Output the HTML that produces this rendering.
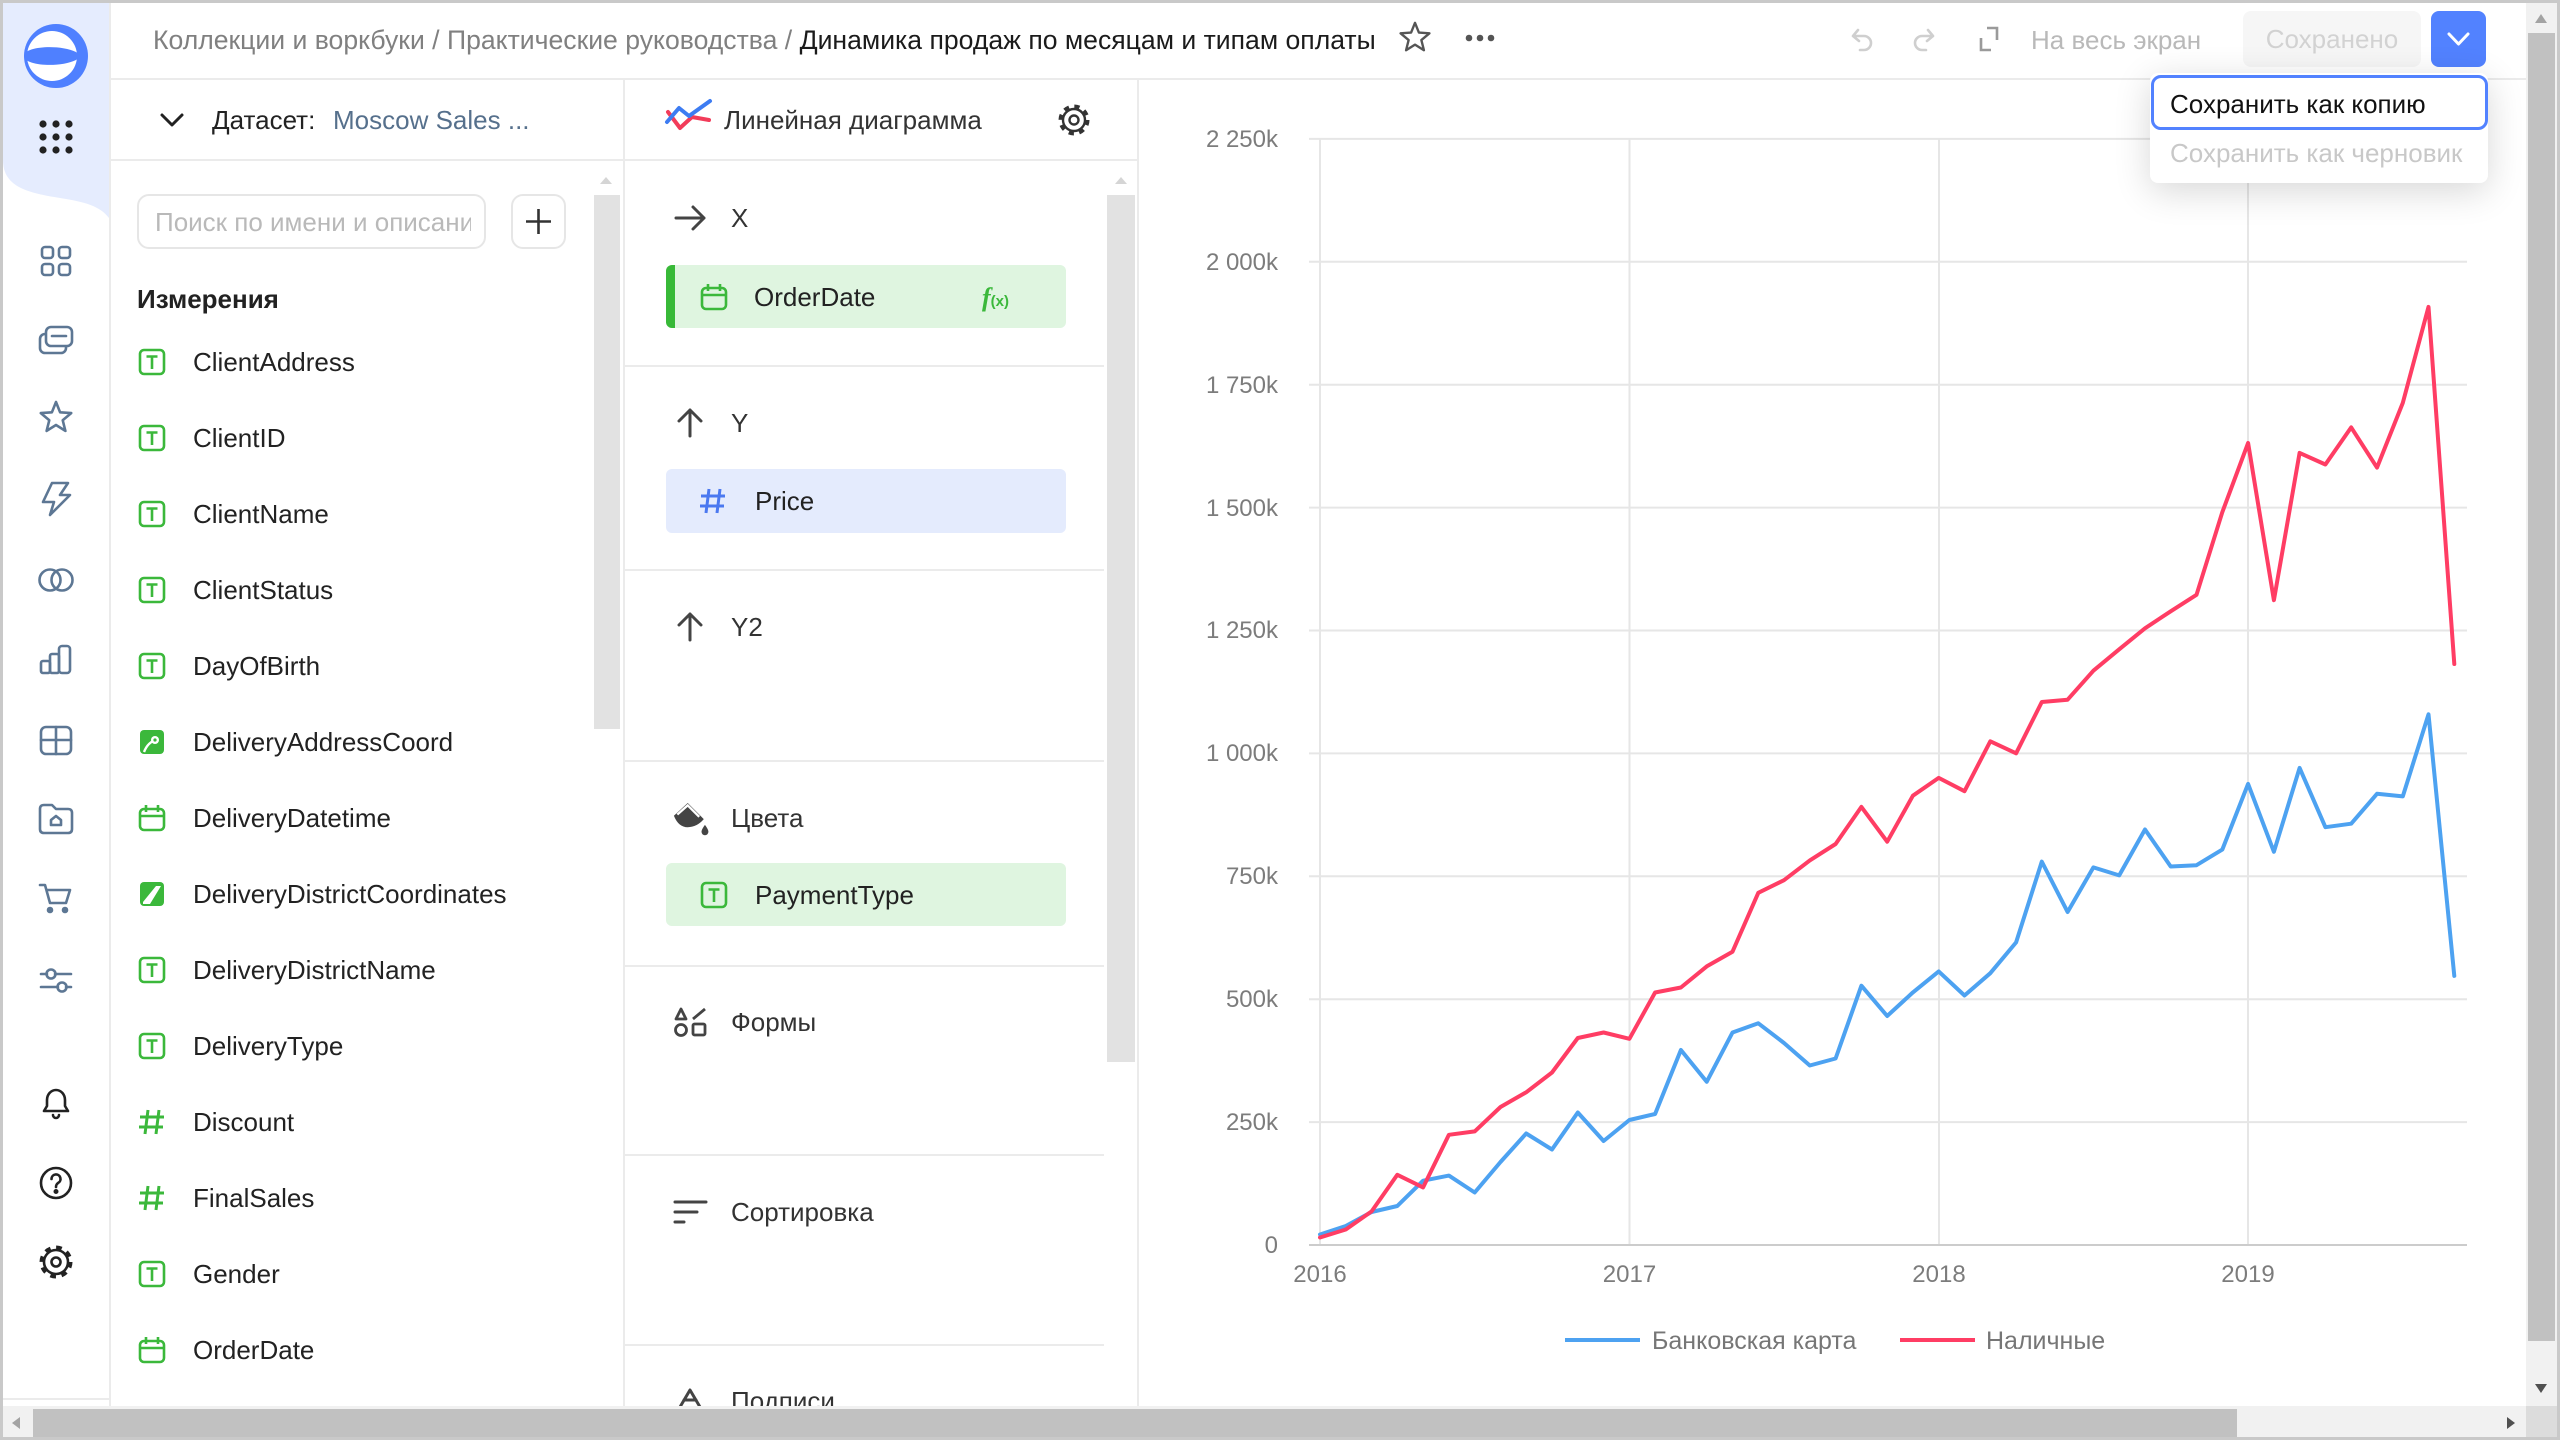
<!DOCTYPE html>
<html><head><meta charset="utf-8">
<style>
*{margin:0;padding:0;box-sizing:border-box}
body{width:2560px;height:1440px;overflow:hidden;background:#fff;font-family:"Liberation Sans","Noto Sans CJK SC",sans-serif;}
#r{position:relative;width:2560px;height:1440px;overflow:hidden;background:#fff}
.a{position:absolute}
.t{position:absolute;white-space:nowrap;font-size:26px;line-height:32px;color:#222}
.hl{position:absolute;height:2px;background:#ebebeb}
.vl{position:absolute;width:2px;background:#ebebeb}
</style></head><body><div id="r">

<!-- structural borders -->
<div class="hl" style="left:110px;top:78px;width:2416px"></div>
<div class="vl" style="left:109px;top:3px;height:1403px"></div>
<div class="hl" style="left:111px;top:159px;width:1028px"></div>
<div class="vl" style="left:623px;top:79px;height:1327px"></div>
<div class="vl" style="left:1137px;top:79px;height:1327px"></div>
<div class="hl" style="left:3px;top:1398px;width:107px"></div>

<!-- search & plus -->
<div class="a" style="left:137px;top:194px;width:349px;height:55px;border:2px solid #e6e6e6;border-radius:12px;overflow:hidden">
  <div class="t" style="left:16px;top:10px;color:#b9b9b9;width:316px;overflow:hidden">Поиск по имени и описанию</div>
</div>
<div class="a" style="left:511px;top:194px;width:55px;height:55px;border:2px solid #e6e6e6;border-radius:12px"></div>

<!-- inner scroll thumbs -->
<div class="a" style="left:594px;top:195px;width:26px;height:534px;background:#e2e2e2"></div>
<div class="a" style="left:1107px;top:195px;width:28px;height:867px;background:#e2e2e2"></div>

<!-- pills -->
<div class="a" style="left:666px;top:265px;width:400px;height:63px;background:#dff5e0;border-radius:6px"></div>
<div class="a" style="left:666px;top:265px;width:9px;height:63px;background:#38b938;border-radius:6px 0 0 6px"></div>
<div class="a" style="left:666px;top:469px;width:400px;height:64px;background:#e4ebfd;border-radius:6px"></div>
<div class="a" style="left:666px;top:863px;width:400px;height:63px;background:#dff5e0;border-radius:6px"></div>

<!-- section dividers -->
<div class="hl" style="left:625px;top:365px;width:479px"></div>
<div class="hl" style="left:625px;top:569px;width:479px"></div>
<div class="hl" style="left:625px;top:760px;width:479px"></div>
<div class="hl" style="left:625px;top:965px;width:479px"></div>
<div class="hl" style="left:625px;top:1154px;width:479px"></div>
<div class="hl" style="left:625px;top:1344px;width:479px"></div>

<!-- top buttons -->
<div class="a" style="left:2243px;top:11px;width:178px;height:56px;background:#f6f6f6;border-radius:8px"></div>
<div class="t" style="left:2243px;top:23px;width:178px;text-align:center;color:#d2d2d2">Сохранено</div>
<div class="a" style="left:2431px;top:11px;width:55px;height:56px;background:#5282ff;border-radius:8px"></div>

<svg class="a" style="left:0;top:0" width="2560" height="1440" viewBox="0 0 2560 1440" xmlns="http://www.w3.org/2000/svg">
  <!-- nav blue area -->
  <path d="M3 3 H109 V218 C100 206 85 202 60 198 C30 193 3 188 3 160 Z" fill="#e5ecfe"/>
  <!-- logo -->
  <circle cx="56" cy="56" r="32" fill="#4f80ff"/>
  <circle cx="52" cy="56" r="25" fill="#ffffff"/>
  <path d="M24 56 C24 46 60 44 76 52 C80 55 80 57 76 60 C60 68 24 66 24 56 Z" fill="#4f80ff"/>
  <!-- dots grid -->
  <g fill="#222">
    <circle cx="43" cy="124" r="3.6"/><circle cx="56" cy="124" r="3.6"/><circle cx="69" cy="124" r="3.6"/>
    <circle cx="43" cy="137" r="3.6"/><circle cx="56" cy="137" r="3.6"/><circle cx="69" cy="137" r="3.6"/>
    <circle cx="43" cy="150" r="3.6"/><circle cx="56" cy="150" r="3.6"/><circle cx="69" cy="150" r="3.6"/>
  </g>
  <!-- nav icons -->
  <g fill="none" stroke="#5d7794" stroke-width="2.6" stroke-linejoin="round" stroke-linecap="round">
    <g transform="translate(56,261)">
      <rect x="-14" y="-14" width="11" height="11" rx="3"/><rect x="3" y="-14" width="11" height="11" rx="3"/>
      <rect x="-14" y="3" width="11" height="11" rx="3"/><rect x="3" y="3" width="11" height="11" rx="3"/>
    </g>
    <g transform="translate(56,340)">
      <rect x="-16" y="-6" width="26" height="19" rx="5"/>
      <rect x="-10" y="-13" width="26" height="19" rx="5" fill="#fff"/>
      <path d="M-4 -4 H10"/>
    </g>
    <g transform="translate(56,418)">
      <path d="M0 -16 L4.1 -5.7 L15.2 -4.9 L6.7 2.2 L9.4 12.9 L0 7 L-9.4 12.9 L-6.7 2.2 L-15.2 -4.9 L-4.1 -5.7 Z"/>
    </g>
    <g transform="translate(56,499)">
      <path d="M-4 -16 H12 L4 -4 H14 L-6 16 L-2 3 H-13 Z"/>
    </g>
    <g transform="translate(56,580)">
      <circle cx="-6" cy="0" r="10.5"/><circle cx="6" cy="0" r="10.5"/>
    </g>
    <g transform="translate(56,659)">
      <rect x="-15" y="2" width="9" height="12" rx="2"/><rect x="-6" y="-5" width="9" height="19" rx="2"/><rect x="3" y="-13" width="11" height="27" rx="3"/>
    </g>
    <g transform="translate(56,740)">
      <rect x="-15" y="-13" width="30" height="27" rx="5"/><path d="M0 -13 V14 M-15 0 H15"/>
    </g>
    <g transform="translate(56,819)">
      <path d="M-16 -10 Q-16 -14 -12 -14 H-4 L0 -10 H12 Q16 -10 16 -6 V10 Q16 14 12 14 H-12 Q-16 14 -16 10 Z"/>
      <path d="M-5 6 V1 L0 -3 L5 1 V6 Z"/>
    </g>
    <g transform="translate(56,898)">
      <path d="M-16 -13 H-11 L-6 5 H10 L14 -8 H-9"/>
      <circle cx="-6" cy="12" r="2" fill="#5d7794"/><circle cx="9" cy="12" r="2" fill="#5d7794"/>
    </g>
    <g transform="translate(56,980)">
      <path d="M-15 -6 H-9 M-1 -6 H15 M-15 7 H2 M10 7 H15"/>
      <circle cx="-5" cy="-6" r="4.5"/><circle cx="6" cy="7" r="4.5"/>
    </g>
  </g>
  <g fill="none" stroke="#222" stroke-width="2.6" stroke-linejoin="round" stroke-linecap="round">
    <g transform="translate(56,1103)">
      <path d="M-12 8 H12 L9 3 V-3 A9 10 0 0 0 -9 -3 V3 Z"/><path d="M-3 12 A3 3 0 0 0 3 12"/>
    </g>
    <g transform="translate(56,1183)">
      <circle r="15"/><path d="M-4.5 -4 A4.5 4.5 0 1 1 2 0 Q0 1.5 0 4"/><circle cx="0" cy="8.5" r="1.2" fill="#222"/>
    </g>
    <g transform="translate(56,1262)">
      <circle r="12"/><circle r="4.5"/><circle r="14" stroke-width="5" stroke-dasharray="5.5 5.5" stroke-linecap="butt"/>
    </g>
  </g>

  <!-- header star / dots / undo / redo / fullscreen -->
  <path transform="translate(1415,38) scale(0.95)" d="M0 -16 L4.1 -5.7 L15.2 -4.9 L6.7 2.2 L9.4 12.9 L0 7 L-9.4 12.9 L-6.7 2.2 L-15.2 -4.9 L-4.1 -5.7 Z" fill="none" stroke="#555" stroke-width="2.5" stroke-linejoin="round"/>
  <g fill="#555"><circle cx="1469" cy="38" r="3.3"/><circle cx="1480" cy="38" r="3.3"/><circle cx="1491" cy="38" r="3.3"/></g>
  <g fill="none" stroke="#cfcfcf" stroke-width="2.6" stroke-linecap="round" stroke-linejoin="round">
    <path d="M1858 30 L1853 36 L1859 41 M1853 36 H1864 A7 7 0 0 1 1864 50 H1860"/>
    <path d="M1928 30 L1933 36 L1927 41 M1933 36 H1922 A7 7 0 0 0 1922 50 H1926"/>
  </g>
  <g fill="none" stroke="#9a9a9a" stroke-width="2.6">
    <path d="M1981 38 V50 H1991 M1987 28 H1997 V40"/>
  </g>
  <path d="M2449 34 L2458.5 44 L2468 34" fill="none" stroke="#fff" stroke-width="3" stroke-linecap="round" stroke-linejoin="round"/>

  <!-- dataset header chevron -->
  <path d="M162 115 L172 125 L182 115" fill="none" stroke="#222" stroke-width="3" stroke-linecap="round" stroke-linejoin="round"/>
  <!-- chart type icon -->
  <path d="M668 112 L680 128 L692 117 L709 120" fill="none" stroke="#f23c5a" stroke-width="4" stroke-linecap="round" stroke-linejoin="round"/>
  <path d="M667 122 L679 108 L689 116 L710 101" fill="none" stroke="#3d7cf2" stroke-width="4" stroke-linecap="round" stroke-linejoin="round"/>
  <!-- gear header -->
  <g transform="translate(1074,120)" fill="none" stroke="#333" stroke-width="2.4">
    <circle r="11"/><circle r="4.5"/><circle r="13" stroke-width="5" stroke-dasharray="5 5.2"/>
  </g>
  <!-- plus -->
  <path d="M538.5 209 V234 M526 221.5 H551" stroke="#333" stroke-width="2.6"/>
  <!-- inner scroll arrows -->
  <path d="M600 184 L606 177 L612 184 Z" fill="#d5d5d5"/>
  <path d="M1115 184 L1121 177 L1127 184 Z" fill="#d5d5d5"/>

  <!-- field icons -->
  <defs>
    <g id="iT"><rect x="-12" y="-12" width="24" height="24" rx="4" fill="none" stroke="#3bb83b" stroke-width="2.6"/><path d="M-5.5 -5.5 H5.5 M0 -5.5 V7" stroke="#3bb83b" stroke-width="2.6" fill="none"/></g>
    <g id="iC"><rect x="-12" y="-9" width="24" height="21" rx="4" fill="none" stroke="#3bb83b" stroke-width="2.6"/><path d="M-12 -2 H12 M-6 -13 V-6 M6 -13 V-6" stroke="#3bb83b" stroke-width="2.6" fill="none"/></g>
    <g id="iH"><path d="M-4 -12 L-7 12 M7 -12 L4 12 M-12 -5 H12 M-13 5 H11" stroke="#3bb83b" stroke-width="3" fill="none"/></g>
    <g id="iG"><rect x="-12" y="-12" width="24" height="24" rx="4" fill="#3bb83b"/><path d="M-8 10 Q-4 0 4 -2" stroke="#fff" stroke-width="2.4" fill="none"/><circle cx="3" cy="-2" r="4" fill="#fff"/><circle cx="3" cy="-2" r="1.6" fill="#3bb83b"/></g>
    <g id="iG2"><rect x="-12" y="-12" width="24" height="24" rx="4" fill="#3bb83b"/><path d="M-9 -8 H9 L-2 10 L-9 10 Z" fill="#fff"/><path d="M-9 -8 H4 L-9 8 Z" fill="#3bb83b"/></g>
  </defs>
  <use href="#iT" x="152" y="362"/>
  <use href="#iT" x="152" y="438"/>
  <use href="#iT" x="152" y="514"/>
  <use href="#iT" x="152" y="590"/>
  <use href="#iT" x="152" y="666"/>
  <use href="#iG" x="152" y="742"/>
  <use href="#iC" x="152" y="818"/>
  <use href="#iG2" x="152" y="894"/>
  <use href="#iT" x="152" y="970"/>
  <use href="#iT" x="152" y="1046"/>
  <use href="#iH" x="152" y="1122"/>
  <use href="#iH" x="152" y="1198"/>
  <use href="#iT" x="152" y="1274"/>
  <use href="#iC" x="152" y="1350"/>
  <!-- section icons -->
  <g fill="none" stroke="#444" stroke-width="3" stroke-linecap="round" stroke-linejoin="round">
    <path d="M676 218 H704 M693 207 L704 218 L693 229"/>
    <path d="M690 436 V410 M679 421 L690 410 L701 421"/>
    <path d="M690 640 V614 M679 625 L690 614 L701 625"/>
    <path d="M675 1202 H706 M675 1212 H697 M675 1222 H684"/>
    <path d="M680 1407 L690 1390 L700 1407 M684 1400 H696"/>
  </g>
  <use href="#iC" x="714" y="297"/>
  <use href="#iT" x="714" y="895"/>
  <path d="M709 489 L706 513 M720 489 L717 513 M701 496 H725 M700 506 H724" stroke="#4a78f0" stroke-width="3" fill="none"/>
  <!-- paint bucket -->
  <g transform="translate(690,818) scale(1.15)">
    <path d="M-14 -2 L-2 -13 L12 1 Q6 8 -2 8 Q-10 8 -14 -2 Z" fill="#444"/>
    <path d="M-11 -3 L-2 -11 L8 -1" fill="none" stroke="#fff" stroke-width="2"/>
    <path d="M13 6 Q16 10 16 12 A3 3 0 0 1 10 12 Q10 10 13 6 Z" fill="#444"/>
  </g>
  <!-- shapes -->
  <g transform="translate(690,1022)" fill="none" stroke="#444" stroke-width="2.8" stroke-linejoin="round">
    <path d="M-14 -3 L-9 -13 L-4 -3 Z"/><circle cx="-9" cy="8" r="5.5"/><rect x="3" y="2" width="12" height="11" rx="1.5"/><path d="M3 -3 L15 -13"/>
  </g>

  <!-- CHART -->
  <g stroke="#e6e6e6" stroke-width="2">
    <line x1="1320" y1="139" x2="1320" y2="1245"/>
    <line x1="1629.5" y1="139" x2="1629.5" y2="1245"/>
    <line x1="1939" y1="139" x2="1939" y2="1245"/>
    <line x1="2248" y1="139" x2="2248" y2="1245"/>
    <line x1="1309" y1="1122.1" x2="2467" y2="1122.1"/>
    <line x1="1309" y1="999.2" x2="2467" y2="999.2"/>
    <line x1="1309" y1="876.3" x2="2467" y2="876.3"/>
    <line x1="1309" y1="753.4" x2="2467" y2="753.4"/>
    <line x1="1309" y1="630.5" x2="2467" y2="630.5"/>
    <line x1="1309" y1="507.6" x2="2467" y2="507.6"/>
    <line x1="1309" y1="384.7" x2="2467" y2="384.7"/>
    <line x1="1309" y1="261.8" x2="2467" y2="261.8"/>
    <line x1="1309" y1="138.9" x2="2467" y2="138.9"/>
  </g>
  <line x1="1309" y1="1245" x2="2467" y2="1245" stroke="#cccccc" stroke-width="2"/>
  <g font-family="Liberation Sans, sans-serif" font-size="24" fill="#7c7c7c" text-anchor="end">
    <text x="1278" y="1253">0</text>
    <text x="1278" y="1130">250k</text>
    <text x="1278" y="1007">500k</text>
    <text x="1278" y="884">750k</text>
    <text x="1278" y="761">1 000k</text>
    <text x="1278" y="638">1 250k</text>
    <text x="1278" y="516">1 500k</text>
    <text x="1278" y="393">1 750k</text>
    <text x="1278" y="270">2 000k</text>
    <text x="1278" y="147">2 250k</text>
  </g>
  <g font-family="Liberation Sans, sans-serif" font-size="24" fill="#7c7c7c" text-anchor="middle">
    <text x="1320" y="1282">2016</text>
    <text x="1629.5" y="1282">2017</text>
    <text x="1939" y="1282">2018</text>
    <text x="2248" y="1282">2019</text>
  </g>
  <polyline fill="none" stroke="#4da2f1" stroke-width="4" stroke-linejoin="round" stroke-linecap="round"
    points="1320,1234.5 1345.8,1226 1371.6,1212 1397.3,1206 1423.1,1180.7 1448.9,1175.6 1474.7,1192.5 1500.5,1162 1526.2,1133.5 1552,1149.5 1577.8,1112.5 1603.6,1141 1629.4,1120 1655.1,1114 1680.9,1050 1706.7,1081.8 1732.5,1032.5 1758.3,1023.3 1784,1043 1809.8,1065.5 1835.6,1058.5 1861.4,985.7 1887.2,1016 1912.9,992.4 1938.7,971.4 1964.5,995.5 1990.3,973.2 2016.1,942.4 2041.8,861.6 2067.6,912 2093.4,867.4 2119.2,875.4 2145,829.5 2170.7,866.5 2196.5,865.2 2222.3,849.6 2248.1,783.9 2273.9,851.8 2299.6,767.9 2325.4,827.2 2351.2,823.7 2377,793.8 2402.8,796.4 2428.5,714.3 2454.3,975.9"/>
  <polyline fill="none" stroke="#ff3d64" stroke-width="4" stroke-linejoin="round" stroke-linecap="round"
    points="1320,1237.5 1345.8,1229.5 1371.6,1211.4 1397.3,1174.8 1423.1,1187.4 1448.9,1134.8 1474.7,1131.4 1500.5,1107 1526.2,1092.3 1552,1072.5 1577.8,1038 1603.6,1032.5 1629.4,1038.8 1655.1,992.5 1680.9,987.5 1706.7,966.4 1732.5,951.7 1758.3,892.8 1784,880.2 1809.8,860.4 1835.6,844 1861.4,806.9 1887.2,841.7 1912.9,795.7 1938.7,777.9 1964.5,791.2 1990.3,741.3 2016.1,753.3 2041.8,702 2067.6,699.7 2093.4,670.7 2119.2,649.3 2145,628.3 2170.7,611.3 2196.5,594.8 2222.3,512.2 2248.1,443 2273.9,600.2 2299.6,452.9 2325.4,464.5 2351.2,427.4 2377,467.6 2402.8,402.9 2428.5,306.9 2454.3,664"/>
  <!-- legend -->
  <line x1="1565" y1="1340" x2="1640" y2="1340" stroke="#4da2f1" stroke-width="4"/>
  <line x1="1900" y1="1340" x2="1975" y2="1340" stroke="#ff3d64" stroke-width="4"/>
  <g font-family="Liberation Sans, sans-serif" font-size="25" fill="#767676">
    <text x="1652" y="1349">Банковская карта</text>
    <text x="1986" y="1349">Наличные</text>
  </g>
</svg>

<!-- texts -->
<div class="t" style="left:153px;top:24px;color:#808080;font-size:26.6px">Коллекции и воркбуки / Практические руководства / <span style="color:#1b1b1b">Динамика продаж по месяцам и типам оплаты</span></div>
<div class="t" style="left:2031px;top:24px;color:#b9b9b9">На весь экран</div>
<div class="t" style="left:212px;top:104px;color:#222">Датасет:</div>
<div class="t" style="left:333px;top:104px;color:#56708c">Moscow Sales ...</div>
<div class="t" style="left:724px;top:104px;color:#333">Линейная диаграмма</div>
<div class="t" style="left:137px;top:283px;font-weight:bold;color:#222">Измерения</div>

<div class="t" style="left:193px;top:346px">ClientAddress</div>
<div class="t" style="left:193px;top:422px">ClientID</div>
<div class="t" style="left:193px;top:498px">ClientName</div>
<div class="t" style="left:193px;top:574px">ClientStatus</div>
<div class="t" style="left:193px;top:650px">DayOfBirth</div>
<div class="t" style="left:193px;top:726px">DeliveryAddressCoord</div>
<div class="t" style="left:193px;top:802px">DeliveryDatetime</div>
<div class="t" style="left:193px;top:878px">DeliveryDistrictCoordinates</div>
<div class="t" style="left:193px;top:954px">DeliveryDistrictName</div>
<div class="t" style="left:193px;top:1030px">DeliveryType</div>
<div class="t" style="left:193px;top:1106px">Discount</div>
<div class="t" style="left:193px;top:1182px">FinalSales</div>
<div class="t" style="left:193px;top:1258px">Gender</div>
<div class="t" style="left:193px;top:1334px">OrderDate</div>

<div class="t" style="left:731px;top:202px;color:#333">X</div>
<div class="t" style="left:754px;top:281px">OrderDate</div>
<div class="t" style="left:982px;top:281px;color:#3bb83b;font-weight:bold"><span style="font-style:italic;font-size:26px;font-family:'Liberation Serif',serif">f</span><span style="font-size:15px">(x)</span></div>
<div class="t" style="left:731px;top:407px;color:#333">Y</div>
<div class="t" style="left:755px;top:485px">Price</div>
<div class="t" style="left:731px;top:611px;color:#333">Y2</div>
<div class="t" style="left:731px;top:802px;color:#333">Цвета</div>
<div class="t" style="left:755px;top:879px">PaymentType</div>
<div class="t" style="left:731px;top:1006px;color:#333">Формы</div>
<div class="t" style="left:731px;top:1196px;color:#333">Сортировка</div>
<div class="t" style="left:731px;top:1385px;color:#333">Подписи</div>

<!-- popup -->
<div class="a" style="left:2150px;top:73px;width:338px;height:110px;background:#fff;border-radius:8px;box-shadow:0 8px 36px rgba(0,0,0,0.16)"></div>
<div class="a" style="left:2151px;top:75px;width:337px;height:55px;border:3px solid #5282ff;border-radius:10px"></div>
<div class="t" style="left:2170px;top:88px;color:#111">Сохранить как копию</div>
<div class="t" style="left:2170px;top:137px;color:#c8c8c8">Сохранить как черновик</div>

<!-- page scrollbars -->
<div class="a" style="left:2526px;top:3px;width:31px;height:1403px;background:#f1f1f1"></div>
<div class="a" style="left:2528px;top:33px;width:27px;height:1308px;background:#c1c1c1"></div>
<div class="a" style="left:3px;top:1406px;width:2523px;height:31px;background:#f1f1f1"></div>
<div class="a" style="left:33px;top:1409px;width:2204px;height:28px;background:#c1c1c1"></div>
<div class="a" style="left:2526px;top:1406px;width:31px;height:31px;background:#dcdcdc"></div>
<svg class="a" style="left:0;top:0" width="2560" height="1440" viewBox="0 0 2560 1440">
  <path d="M2535 23 L2541 14 L2547 23 Z" fill="#a3a3a3"/>
  <path d="M2535 1384 L2541 1393 L2547 1384 Z" fill="#505050"/>
  <path d="M20 1417 L12 1423 L20 1429 Z" fill="#a3a3a3"/>
  <path d="M2507 1417 L2515 1423 L2507 1429 Z" fill="#505050"/>
</svg>

<!-- outer frame -->
<div class="a" style="left:0;top:0;width:2560px;height:1440px;border:3px solid #c9c9c9;pointer-events:none"></div>
</div></body></html>
